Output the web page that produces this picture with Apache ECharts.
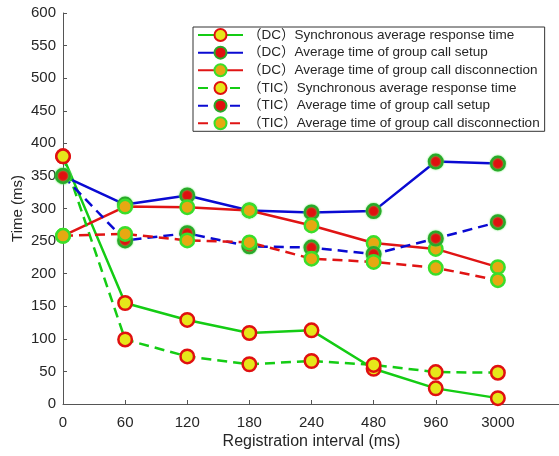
<!DOCTYPE html>
<html>
<head>
<meta charset="utf-8">
<script src="https://cdn.jsdelivr.net/npm/echarts@6/dist/echarts.min.js"></script>
<style>
  html, body { margin: 0; padding: 0; background: #fff; }
  #chart { width: 559px; height: 456px; }
</style>
</head>
<body>
<div id="chart"></div>
<script>
// Registration intervals (ms) on the x axis
const categories = ['0', '60', '120', '180', '240', '480', '960', '3000'];

// Measured times (ms)
const dcSyncResponse   = [380, 155, 129, 109, 113, 54, 24, 9];
const dcCallSetup      = [350, 306, 320, 297, 294, 296, 372, 369];
const dcCallDisconnect = [258, 303, 302, 297, 274, 247, 238, 210];
const ticSyncResponse  = [380, 99, 73, 61, 66, 60, 49, 48];
const ticCallSetup     = [350, 251, 262, 242, 240, 230, 254, 279];
const ticCallDisconnect= [258, 261, 251, 248, 223, 218, 209, 190];

const seriesNames = [
  '（DC）Synchronous average response time',
  '（DC）Average time of group call setup',
  '（DC）Average time of group call disconnection',
  '（TIC）Synchronous average response time',
  '（TIC）Average time of group call setup',
  '（TIC）Average time of group call disconnection'
];

const GREEN = '#14cc14';
const BLUE = '#0a0ad2';
const RED = '#e01414';

const FONT = '"Liberation Sans", Arial, "Noto Sans CJK SC", sans-serif';

// One extra empty slot keeps the axis running past the last interval
const axisCategories = categories.concat(['']);

function markerSync() {
  return { color: '#e6e61a', borderColor: '#e01010', borderWidth: 2.5 };
}
function markerSetup() {
  return { color: '#e01010', borderColor: '#2aa82a', borderWidth: 2.5,
           shadowColor: 'rgba(90,235,90,0.9)', shadowBlur: 2 };
}
function markerDisconnect() {
  return { color: '#e6a812', borderColor: '#3ade2a', borderWidth: 2.5 };
}

function lineSeries(name, values, color, dashed, itemStyle) {
  return {
    name: name,
    type: 'line',
    data: values,
    symbol: 'circle',
    symbolSize: 13.5,
    showAllSymbol: true,
    lineStyle: { color: color, width: 2.5, type: dashed ? [10, 6] : 'solid' },
    itemStyle: itemStyle,
    emphasis: { disabled: true },
    animation: false
  };
}

const chart = echarts.init(document.getElementById('chart'), null, { renderer: 'canvas' });

chart.setOption({
  backgroundColor: '#ffffff',
  animation: false,
  textStyle: { fontFamily: FONT },
  grid: { left: 63, right: -1, top: 13, bottom: 52, containLabel: false, outerBoundsMode: 'none' },
  legend: {
    orient: 'vertical',
    left: 193,
    top: 27,
    padding: [1, 5, 1, 4],
    itemWidth: 45,
    itemHeight: 15,
    itemGap: 3.66,
    borderColor: '#333333',
    borderWidth: 1,
    backgroundColor: '#ffffff',
    textStyle: { fontSize: 13.5, color: '#262626', fontFamily: FONT },
    data: seriesNames
  },
  xAxis: {
    type: 'category',
    data: axisCategories,
    boundaryGap: false,
    name: 'Registration interval (ms)',
    nameLocation: 'middle',
    nameGap: 30,
    nameMoveOverlap: false,
    nameTextStyle: { fontSize: 16, color: '#262626' },
    axisLine: { lineStyle: { color: '#555555', width: 1 } },
    axisTick: { inside: true, length: 4, lineStyle: { color: '#555555' } },
    axisLabel: { fontSize: 15, color: '#262626', margin: 11 },
    splitLine: { show: false }
  },
  yAxis: {
    type: 'value',
    min: 0,
    max: 600,
    interval: 50,
    name: 'Time (ms)',
    nameLocation: 'middle',
    nameGap: 38,
    nameMoveOverlap: false,
    nameTextStyle: { fontSize: 15, color: '#262626' },
    axisLine: { show: true, lineStyle: { color: '#555555', width: 1 } },
    axisTick: { show: true, inside: true, length: 4, lineStyle: { color: '#555555' } },
    axisLabel: { fontSize: 15, color: '#262626', margin: 7 },
    splitLine: { show: false }
  },
  series: [
    lineSeries(seriesNames[0], dcSyncResponse, GREEN, false, markerSync()),
    lineSeries(seriesNames[1], dcCallSetup, BLUE, false, markerSetup()),
    lineSeries(seriesNames[2], dcCallDisconnect, RED, false, markerDisconnect()),
    lineSeries(seriesNames[3], ticSyncResponse, GREEN, true, markerSync()),
    lineSeries(seriesNames[4], ticCallSetup, BLUE, true, markerSetup()),
    lineSeries(seriesNames[5], ticCallDisconnect, RED, true, markerDisconnect())
  ]
});
</script>
</body>
</html>
